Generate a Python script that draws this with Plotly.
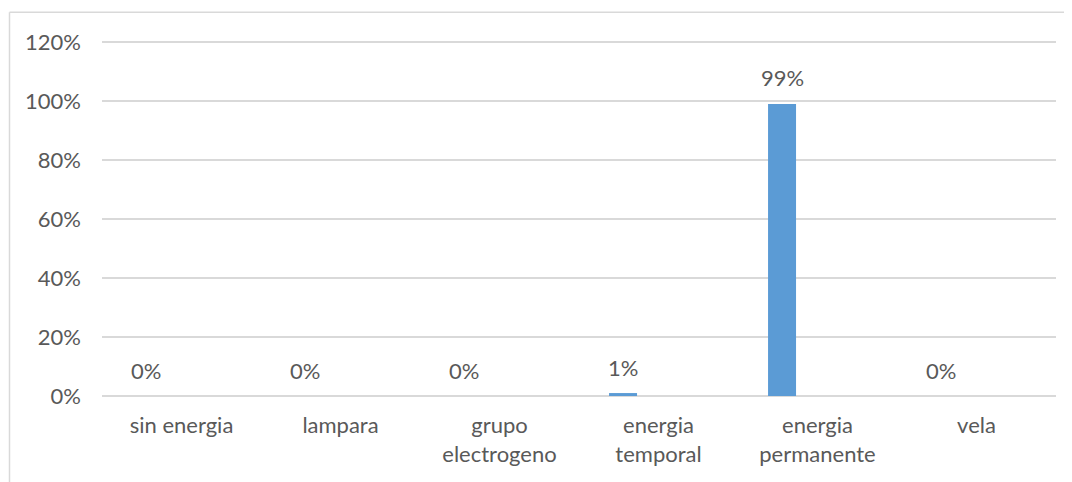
import plotly.graph_objects as go

categories = ["sin energia", "lampara", "grupo electrogeno", "energia temporal", "energia permanente", "vela"]
tick_labels = ["sin energia", "lampara", "grupo<br>electrogeno", "energia<br>temporal", "energia<br>permanente", "vela"]
values = [0.0, 0.0, 0.0, 0.01, 0.99, 0.0]
y_ticks = [0, 0.2, 0.4, 0.6, 0.8, 1.0, 1.2]

# page body has an 8px margin, so the figure is sized/offset to compensate
W, H = 1064, 474
L, R, T, B = 94, 16, 30.7, 85.5
pw = W - L - R
ph = H - T - B

FONT = "Lato"
TXT = "#595959"
GRID = "#d9d9d9"
FS = 22

fig = go.Figure()
fig.add_trace(go.Bar(
    x=categories, y=values,
    width=0.176, offset=-0.311,
    marker=dict(color="#5B9BD5", line=dict(width=0)),
    hoverinfo="skip",
))

for c, v in zip(categories, values):
    fig.add_annotation(
        x=c, y=v, xref="x", yref="y",
        text=f"{round(v*100)}%", showarrow=False,
        xshift=-35.5, yshift=26, yanchor="middle", xanchor="center",
        font=dict(family=FONT, size=FS, color=TXT),
    )

# chart border (left and top visible)
x_left = (1.5 - L) / pw
y_top = (H - 4 - B) / ph
fig.add_shape(type="line", xref="paper", yref="paper",
              x0=x_left, x1=x_left, y0=y_top, y1=-B / ph - 0.05,
              line=dict(color=GRID, width=1.5))
fig.add_shape(type="line", xref="paper", yref="paper",
              x0=x_left, x1=(W - L) / pw + 0.05, y0=y_top, y1=y_top,
              line=dict(color=GRID, width=1.5))

fig.update_layout(
    width=W, height=H,
    margin=dict(l=L, r=R, t=T, b=B, pad=0),
    paper_bgcolor="white", plot_bgcolor="white",
    showlegend=False,
    font=dict(family=FONT, size=FS, color=TXT),
    xaxis=dict(
        tickmode="array", tickvals=categories, ticktext=tick_labels,
        showgrid=False, showline=False, zeroline=False,
        ticks="", ticklabelstandoff=14,
        tickfont=dict(family=FONT, size=FS, color=TXT),
    ),
    yaxis=dict(
        range=[0, 1.21], tickmode="array", tickvals=y_ticks,
        tickformat=".0%", showgrid=True, gridcolor=GRID, gridwidth=1.5,
        zeroline=True, zerolinecolor=GRID, zerolinewidth=1.5,
        showline=False, ticks="", ticklabelstandoff=20,
        tickfont=dict(family=FONT, size=FS, color=TXT),
    ),
)

fig.write_html("out.html")
